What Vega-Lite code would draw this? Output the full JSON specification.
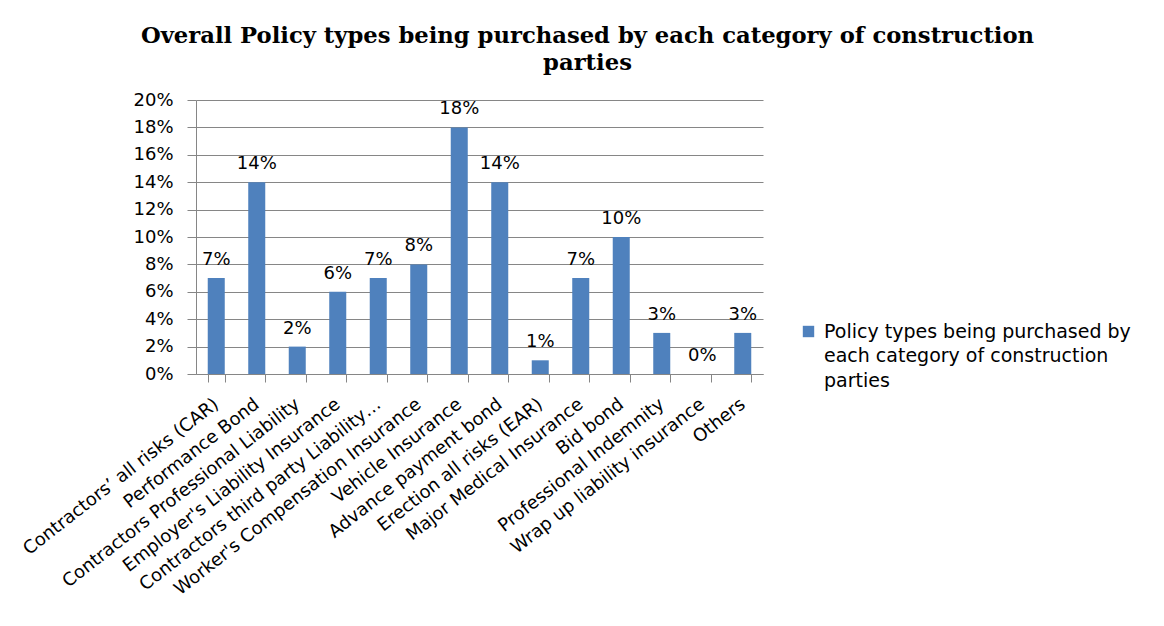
{
  "$schema": "https://vega.github.io/schema/vega-lite/v6.json",
  "width": 567,
  "height": 274,
  "autosize": {"type": "none"},
  "padding": {"left": 196, "top": 100, "right": 401, "bottom": 252},
  "background": "white",
  "title": {
    "text": ["Overall Policy types being purchased by each category of construction", "parties"],
    "font": "DejaVu Serif",
    "fontSize": 22.7,
    "fontWeight": "bold",
    "color": "black",
    "anchor": "middle",
    "frame": "group",
    "dx": 108,
    "lineHeight": 27,
    "offset": 16
  },
  "data": {
    "values": [
      {"policy": "Contractors’ all risks (CAR)", "share": 0.07, "series": "s"},
      {"policy": "Performance Bond", "share": 0.14, "series": "s"},
      {"policy": "Contractors Professional Liability", "share": 0.02, "series": "s"},
      {"policy": "Employer's Liability Insurance", "share": 0.06, "series": "s"},
      {"policy": "Contractors third party Liability…", "share": 0.07, "series": "s"},
      {"policy": "Worker's Compensation Insurance", "share": 0.08, "series": "s"},
      {"policy": "Vehicle Insurance", "share": 0.18, "series": "s"},
      {"policy": "Advance payment bond", "share": 0.14, "series": "s"},
      {"policy": "Erection all risks (EAR)", "share": 0.01, "series": "s"},
      {"policy": "Major Medical Insurance", "share": 0.07, "series": "s"},
      {"policy": "Bid bond", "share": 0.10, "series": "s"},
      {"policy": "Professional Indemnity", "share": 0.03, "series": "s"},
      {"policy": "Wrap up liability insurance", "share": 0.0, "series": "s"},
      {"policy": "Others", "share": 0.03, "series": "s"}
    ]
  },
  "encoding": {
    "x": {
      "field": "policy",
      "type": "nominal",
      "sort": null,
      "scale": {"paddingInner": 0.58, "paddingOuter": 0.29},
      "axis": {
        "title": null,
        "labelAngle": -38,
        "labelAlign": "right",
        "labelBaseline": "middle",
        "labelFont": "DejaVu Sans",
        "labelFontSize": 18,
        "labelColor": "black",
        "labelLimit": 400,
        "labelPadding": 20,
        "tickBand": "extent",
        "tickSize": 8,
        "tickColor": "#868686",
        "domainColor": "#868686",
        "grid": false
      }
    },
    "y": {
      "field": "share",
      "type": "quantitative",
      "scale": {"domain": [0, 0.2], "nice": false},
      "axis": {
        "title": null,
        "format": ".0%",
        "values": [0, 0.02, 0.04, 0.06, 0.08, 0.1, 0.12, 0.14, 0.16, 0.18, 0.2],
        "labelFont": "DejaVu Sans",
        "labelFontSize": 18,
        "labelColor": "black",
        "labelPadding": 14,
        "tickSize": 9,
        "tickColor": "#868686",
        "domainColor": "#868686",
        "gridColor": "#868686",
        "grid": true
      }
    }
  },
  "layer": [
    {
      "mark": {"type": "bar", "color": "#4F81BD"},
      "encoding": {
        "color": {
          "field": "series",
          "type": "nominal",
          "scale": {"range": ["#4F81BD"]},
          "legend": {
            "title": null,
            "orient": "none",
            "legendX": 603,
            "legendY": 222,
            "symbolType": "square",
            "symbolSize": 130,
            "symbolStrokeWidth": 0,
            "labelFont": "DejaVu Sans",
            "labelFontSize": 19,
            "labelColor": "black",
            "labelLimit": 400,
            "labelOffset": 6,
            "labelExpr": "['Policy types being purchased by', 'each category of construction', 'parties']"
          }
        }
      }
    },
    {
      "mark": {"type": "text", "font": "DejaVu Sans", "fontSize": 18, "color": "black", "baseline": "alphabetic", "dy": -13},
      "encoding": {
        "text": {"field": "share", "type": "quantitative", "format": ".0%"}
      }
    }
  ],
  "config": {
    "view": {"stroke": null},
    "axis": {"gridWidth": 1},
    "style": {"guide-label": {"lineHeight": 24.5}}
  }
}
